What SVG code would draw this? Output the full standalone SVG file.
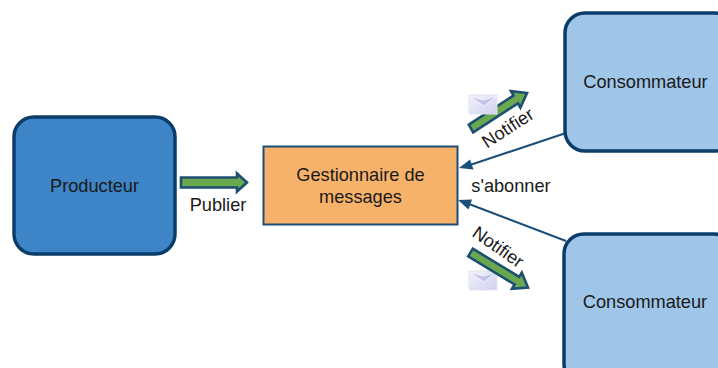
<svg xmlns="http://www.w3.org/2000/svg" width="718" height="368" viewBox="0 0 718 368">
<defs>
<style>
text{font-family:"Liberation Sans",Arial,sans-serif;font-size:18.200px;fill:#1a1a1a;text-anchor:middle}
.cons{fill:#9fc5e8;stroke:#0b3d6b;stroke-width:3.500}
.fat{fill:#6aa84f;stroke:#1c4f72;stroke-width:2.600;stroke-linejoin:miter}
.conn{stroke:#1c4f78;stroke-width:2;fill:none}
.head{fill:#1c4f78}
.env{fill:url(#envg);stroke:#e4e4f2;stroke-width:1}
.flap{fill:#c4c4ea;stroke:#f4f4fc;stroke-width:1}
</style>
<linearGradient id="envg" x1="0" y1="0" x2="1" y2="1"><stop offset="0" stop-color="#f4f4fc"/><stop offset="1" stop-color="#cfcfee"/></linearGradient>
<symbol id="envelope" viewBox="0 0 28 19" overflow="visible">
<rect class="env" x="0" y="0" width="28" height="19"/>
<path class="flap" d="M0 1 L15 11 L28 1 L14 5 Z"/>
</symbol>
</defs>
<rect width="718" height="368" fill="#fff"/>
<g id="connectors">
<path class="conn" d="M566 133 L470 165"/>
<path class="head" d="M459 168 L470 159.500 L473.500 169.500 Z"/>
<path class="conn" d="M566 241 L469 204"/>
<path class="head" d="M458 200 L472 199.500 L468.500 209.500 Z"/>
</g>
<g id="producteur">
<rect x="14" y="117" width="161" height="137" rx="20" fill="#3d85c6" stroke="#0b3d6b" stroke-width="3.500"/>
<text x="94.500" y="192">Producteur</text>
</g>
<g id="gestionnaire">
<rect x="263.500" y="146.500" width="194" height="78" fill="#f6b26b" stroke="#1c4f78" stroke-width="2"/>
<text x="360.500" y="181">Gestionnaire de</text>
<text x="360.500" y="203">messages</text>
</g>
<g id="consommateur-haut">
<rect x="565" y="13" width="170" height="138" rx="20" class="cons"/>
<text x="645.500" y="88">Consommateur</text>
</g>
<g id="consommateur-bas">
<rect x="564" y="234" width="170" height="150" rx="20" class="cons"/>
<text x="645" y="308">Consommateur</text>
</g>
<g id="publier">
<path class="fat" d="M181 177.500 H237 V173.500 L247 182.500 L237 191.500 V187.500 H181 Z"/>
<text x="218" y="211">Publier</text>
</g>
<g id="notifier-haut">
<path class="fat" d="M468.800 124.600 L513.500 95.500 L511 91.100 L527 93 L520.400 107.700 L517.900 103.300 L473.200 132.400 Z"/>
<use href="#envelope" x="469" y="95" width="28" height="19"/>
<text x="508" y="134" transform="rotate(-33 508 128)">Notifier</text>
</g>
<g id="abonner">
<text x="511" y="192">s'abonner</text>
</g>
<g id="notifier-bas">
<use href="#envelope" x="469" y="271" width="28" height="19"/>
<path class="fat" d="M472.800 248.700 L519.200 276.900 L521.800 272.600 L528 287.500 L512 288.800 L514.600 284.500 L468.200 256.300 Z"/>
<text x="498" y="253" transform="rotate(35 498 247)">Notifier</text>
</g>
</svg>
